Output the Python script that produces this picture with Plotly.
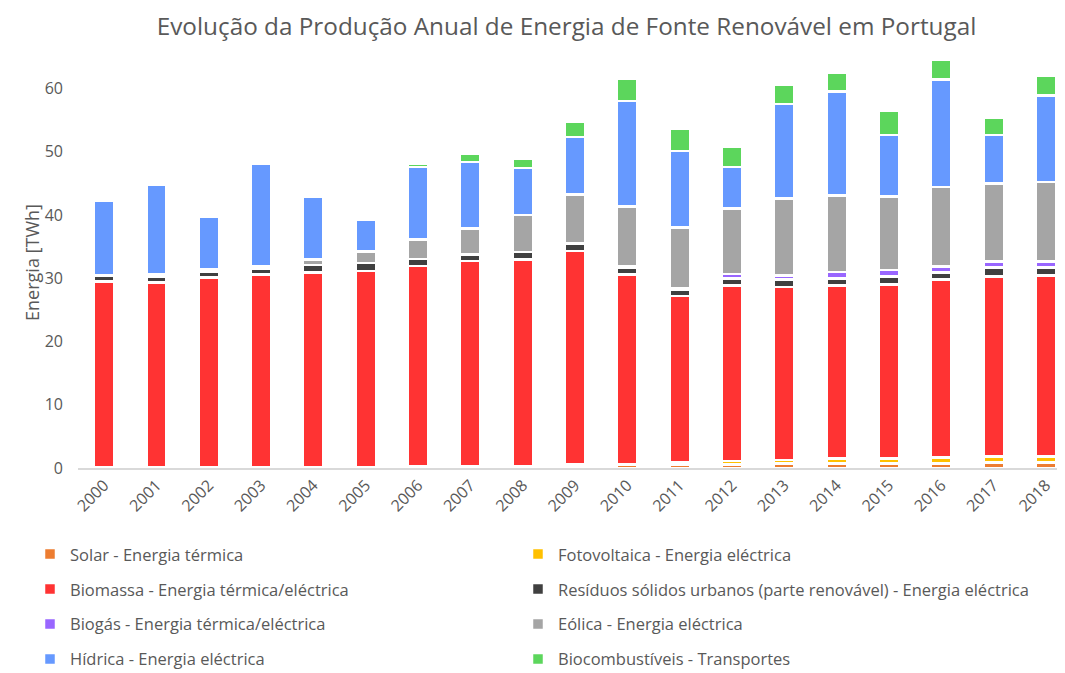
import plotly.graph_objects as go

anos = [str(a) for a in range(2000, 2019)]

solar_termica = [0.15, 0.15, 0.15, 0.15, 0.15, 0.15, 0.2, 0.2, 0.25, 0.4, 0.45, 0.5, 0.55, 0.7, 0.7, 0.74, 0.74, 0.9, 0.9]
fotovoltaica = [None, None, None, None, None, None, None, None, None, 0.15, 0.21, 0.37, 0.59, 0.6, 0.8, 0.76, 0.95, 0.95, 0.95]
biomassa = [29.38, 29.22, 30.01, 30.48, 30.8, 30.98, 31.72, 32.51, 32.75, 33.74, 29.97, 26.32, 27.76, 27.31, 27.4, 27.55, 28.15, 28.47, 28.62]
residuos = [0.84, 0.95, 0.95, 0.95, 1.18, 1.32, 1.16, 1.05, 1.16, 1.24, 1.05, 1.0, 1.1, 1.23, 1.1, 1.27, 1.11, 1.42, 1.27]
biogas = [None, None, None, None, None, None, None, None, None, None, 0.24, 0.31, 0.66, 0.63, 0.97, 0.97, 0.95, 0.95, 0.95]
eolica = [0.15, 0.26, 0.31, 0.39, 0.84, 1.81, 3.05, 4.11, 5.87, 7.71, 9.42, 9.5, 10.37, 12.16, 12.14, 11.63, 12.55, 12.28, 12.58]
hidrica = [11.72, 14.29, 8.29, 16.22, 10.0, 4.93, 11.51, 10.56, 7.45, 9.1, 16.72, 12.17, 6.61, 14.95, 16.45, 9.77, 17.03, 7.72, 13.68]
biocombustiveis = [None, None, None, None, None, None, 0.55, 1.34, 1.39, 2.48, 3.55, 3.54, 3.23, 3.08, 2.99, 3.87, 3.07, 2.76, 3.13]

nomes = [
    "Solar - Energia térmica",
    "Fotovoltaica - Energia eléctrica",
    "Biomassa - Energia térmica/eléctrica",
    "Resíduos sólidos urbanos (parte renovável) - Energia eléctrica",
    "Biogás - Energia térmica/eléctrica",
    "Eólica - Energia eléctrica",
    "Hídrica - Energia eléctrica",
    "Biocombustíveis - Transportes",
]
valores = [solar_termica, fotovoltaica, biomassa, residuos, biogas, eolica, hidrica, biocombustiveis]
cores = ["#ED7D31", "#FFC000", "#FF3333", "#404040", "#9966FF", "#A5A5A5", "#6699FF", "#5CD65C"]

FONT = "Open Sans"
TXT = "#595959"
OFF = 8  # default page body margin
W, H = 1065 - OFF, 673 - OFF
L, R, T, B = 78 - OFF, 5, 57 - OFF, 204.5
plot_w = W - L - R
plot_h = H - T - B

fig = go.Figure()
legend_layouts = {}
col_text_px = [72 - OFF, 560 - OFF]
row_px = [555 - OFF, 590 - OFF, 625 - OFF, 660 - OFF]
for i, (nome, vals, cor) in enumerate(zip(nomes, valores, cores)):
    key = "legend" if i == 0 else f"legend{i + 1}"
    fig.add_trace(go.Bar(
        x=anos, y=vals, name=nome, legend=key, showlegend=True,
        marker=dict(color=cor, line=dict(color="white", width=2.5)),
    ))
    col, row = i % 2, i // 2
    legend_layouts[key] = dict(
        x=(col_text_px[col] - 42 - L) / plot_w, xanchor="left",
        y=(H - B - row_px[row]) / plot_h, yanchor="middle",
        font=dict(family=FONT, size=16.5, color=TXT),
        bgcolor="rgba(0,0,0,0)",
    )

fig.update_layout(
    width=W, height=H,
    showlegend=True,
    barmode="stack", bargap=0.61,
    plot_bgcolor="white", paper_bgcolor="white",
    margin=dict(l=L, r=R, t=T, b=B, autoexpand=False),
    font=dict(family=FONT, color=TXT),
    title=dict(
        text="Evolução da Produção Anual de Energia de Fonte Renovável em Portugal",
        x=(566.5 - OFF) / W, xanchor="center", y=1 - (26 - OFF) / H, yanchor="middle",
        font=dict(family=FONT, size=24.3, color=TXT),
    ),
    xaxis=dict(
        type="category", range=[-0.5, 18.27],
        tickangle=-45, tickfont=dict(family=FONT, size=16, color=TXT),
        showline=True, linecolor="#D9D9D9", linewidth=1.5,
        showgrid=False, ticks="",
    ),
    yaxis=dict(
        range=[0, 65], tickvals=[0, 10, 20, 30, 40, 50, 60],
        tickfont=dict(family=FONT, size=16, color=TXT),
        showgrid=False, zeroline=False, showline=False,
        ticklabelstandoff=14,
        title=dict(text="Energia [TWh]", font=dict(family=FONT, size=18, color=TXT), standoff=0),
    ),
    **legend_layouts,
)

fig.write_html("out.html")
